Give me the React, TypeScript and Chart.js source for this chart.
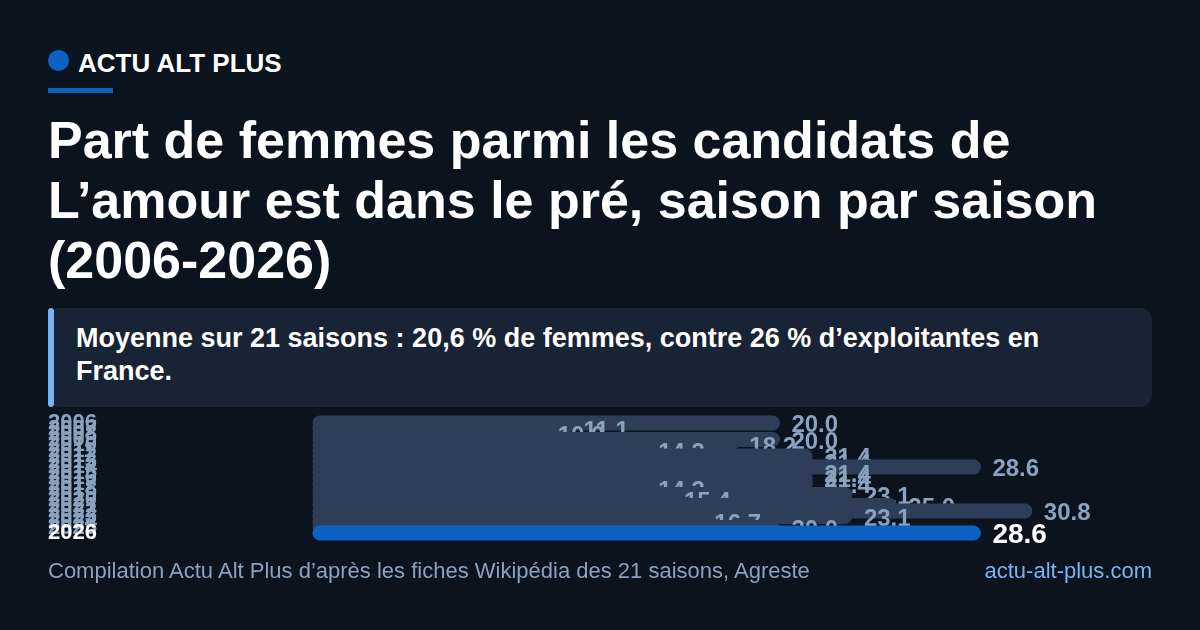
import React, { useEffect, useRef } from "react";
import { Chart, registerables } from "chart.js";

Chart.register(...registerables);

const seasons = ["2006","2007","2008","2009","2010","2011","2012","2013","2014","2015","2016","2017","2018","2019","2020","2021","2022","2023","2024","2025","2026"];
const shares = [20.0,11.1,10.0,20.0,18.2,14.3,21.4,21.4,28.6,21.4,21.4,21.4,14.3,23.1,15.4,25.0,30.8,23.1,16.7,20.0,28.6];

const FONT = '"Liberation Sans", Arial, sans-serif';
const BG = "#0b131f";
const BAR = "#2e3e58";
const HIGHLIGHT = "#0c62c2";
const MUTED = "#8aa2bf";
const LINK = "#7ab3ef";
const lastIndex = seasons.length - 1;

const valueLabels = {
  id: "valueLabels",
  afterDatasetDraw(chart: any, args: any) {
    const i = args.index;
    const el = args.meta.data[i];
    if (!el) return;
    const c = chart.ctx;
    const last = i === lastIndex;
    c.save();
    c.font = `bold ${last ? 28 : 24}px ${FONT}`;
    c.fillStyle = last ? "#ffffff" : MUTED;
    c.textAlign = "left";
    c.textBaseline = "middle";
    c.fillText(shares[i].toFixed(1), el.x + 11.5, el.y + 2.5);
    c.restore();
  },
};

export default function App() {
  const ref = useRef<HTMLCanvasElement>(null);
  useEffect(() => {
    document.body.style.margin = "0";
    document.body.style.background = BG;
    const chart = new Chart(ref.current!, {
      type: "bar",
      data: {
        labels: seasons,
        datasets: shares.map((v, i) => ({
          data: seasons.map((_, j) => (j === i ? v : null)),
          order: lastIndex - i,
          backgroundColor: i === lastIndex ? HIGHLIGHT : BAR,
          borderRadius: 7.5,
          borderSkipped: false,
          borderWidth: 0,
          inflateAmount: 0,
          barThickness: 15,
          grouped: false,
          clip: false as any,
        })),
      },
      options: {
        indexAxis: "y",
        animation: false,
        responsive: false,
        devicePixelRatio: 1,
        layout: { padding: { left: 48, right: 48, top: 20.25, bottom: 24.25 } },
        plugins: { legend: { display: false }, tooltip: { enabled: false } },
        scales: {
          x: { display: false, min: 0, max: 35.92 },
          y: {
            afterFit: (s: any) => { s.width = 264.5; },
            border: { display: false },
            grid: { display: false, drawTicks: false },
            ticks: {
              autoSkip: false,
              crossAlign: "far",
              padding: 0,
              maxRotation: 0,
              minRotation: 0,
              color: (c: any) => (c.index === lastIndex ? "#ffffff" : MUTED),
              font: { family: FONT, size: 22, weight: "bold" },
            },
          },
        },
      },
      plugins: [valueLabels],
    } as any);
    return () => chart.destroy();
  }, []);

  const abs = (o: React.CSSProperties): React.CSSProperties => ({ position: "absolute", ...o });
  return (
    <div style={{ position: "relative", width: 1200, height: 630, overflow: "hidden", background: BG, fontFamily: FONT, color: "#fff" }}>
      <div style={abs({ left: 48, top: 50, width: 21, height: 21, borderRadius: "50%", background: HIGHLIGHT })} />
      <div style={abs({ left: 78, top: 48, fontSize: 26, fontWeight: 700, lineHeight: "30px" })}>ACTU ALT PLUS</div>
      <div style={abs({ left: 48, top: 88, width: 64.5, height: 5, background: HIGHLIGHT })} />
      <div style={abs({ left: 48, top: 110, width: 1104, fontSize: 52, fontWeight: 700, lineHeight: "60px" })}>
        Part de femmes parmi les candidats de<br />L’amour est dans le pré, saison par saison<br />(2006-2026)
      </div>
      <div style={abs({ left: 48, top: 308, width: 1104, height: 98.5, borderRadius: 12, background: "#182335" })} />
      <div style={abs({ left: 48, top: 308, width: 6, height: 98.5, borderRadius: 3, background: LINK })} />
      <div style={abs({ left: 76, top: 322, width: 1050, fontSize: 27, fontWeight: 700, lineHeight: "33px" })}>
        Moyenne sur 21 saisons : 20,6 % de femmes, contre 26 % d’exploitantes en France.
      </div>
      <canvas ref={ref} width={1200} height={160} style={abs({ left: 0, top: 400, width: 1200, height: 160 })} />
      <div style={abs({ left: 48, top: 558, fontSize: 22, lineHeight: "26px", color: MUTED })}>
        Compilation Actu Alt Plus d’après les fiches Wikipédia des 21 saisons, Agreste
      </div>
      <div style={abs({ right: 48, top: 558, fontSize: 22, lineHeight: "26px", color: LINK })}>actu-alt-plus.com</div>
    </div>
  );
}
